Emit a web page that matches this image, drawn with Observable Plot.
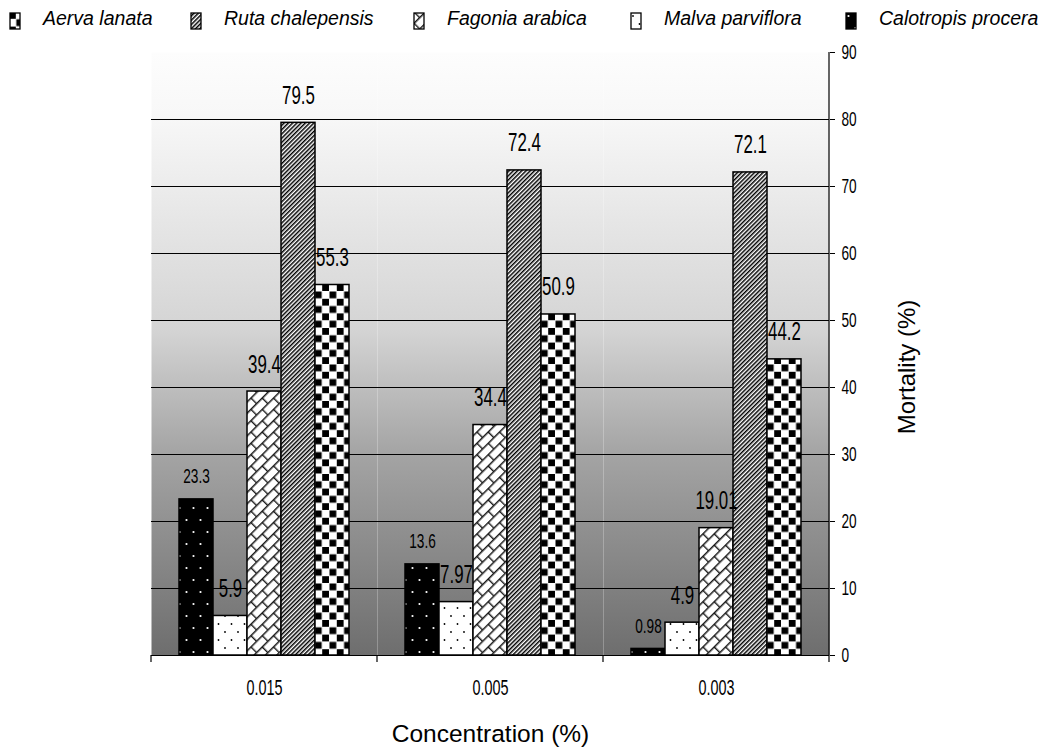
<!DOCTYPE html>
<html><head><meta charset="utf-8">
<script src="https://cdn.jsdelivr.net/npm/d3@7"></script>
<script src="https://cdn.jsdelivr.net/npm/@observablehq/plot@0.6"></script>
<style>
body{margin:0;background:#fff;width:1060px;height:751px;overflow:hidden;font-family:"Liberation Sans",Arial,sans-serif;}
#legend{position:relative;height:36px;}
.sw{position:absolute;top:12px;}
.lt{position:absolute;top:8px;font-style:italic;font-size:19.5px;line-height:20px;color:#000;white-space:nowrap;}
</style>
</head><body>
<svg width="0" height="0" style="position:absolute">
<defs>
<linearGradient id="bg" x1="0" y1="0" x2="0" y2="1">
<stop offset="0" stop-color="#fdfdfd"/>
<stop offset="0.1" stop-color="#f8f8f8"/>
<stop offset="0.46" stop-color="#d4d4d4"/>
<stop offset="0.665" stop-color="#a4a4a4"/>
<stop offset="1" stop-color="#6e6e6e"/>
</linearGradient>
<!-- Calotropis: black with white dots -->
<pattern id="pat0" patternUnits="userSpaceOnUse" width="14" height="24">
<rect width="14" height="24" fill="#000"/>
<circle cx="3.5" cy="4" r="1.1" fill="#fff"/>
<circle cx="10.5" cy="16" r="1.1" fill="#fff"/>
</pattern>
<!-- Malva: white with black dots -->
<pattern id="pat1" patternUnits="userSpaceOnUse" width="13" height="16">
<rect width="13" height="16" fill="#fff"/>
<circle cx="3" cy="4" r="0.9" fill="#000"/>
<circle cx="9.5" cy="12" r="0.9" fill="#000"/>
</pattern>
<!-- Fagonia: diagonal brick -->
<pattern id="pat2" patternUnits="userSpaceOnUse" width="16" height="16" patternTransform="rotate(-45)">
<rect width="16" height="16" fill="#fff"/>
<path d="M0,0.7H16M0,8.7H16M0.7,0V8.7M8.7,8.7V16" stroke="#1a1a1a" stroke-width="1.4" fill="none"/>
</pattern>
<!-- Ruta: diagonal stripes -->
<pattern id="pat3" patternUnits="userSpaceOnUse" width="3" height="6" patternTransform="rotate(45)">
<rect width="3" height="6" fill="#fff"/>
<rect width="1.5" height="6" fill="#000"/>
</pattern>
<!-- Aerva: checkerboard -->
<pattern id="pat4" patternUnits="userSpaceOnUse" width="14.6" height="14.6">
<rect width="14.6" height="14.6" fill="#fff"/>
<rect x="0" y="0" width="6.8" height="6.8" fill="#000"/>
<rect x="7.3" y="7.3" width="6.8" height="6.8" fill="#000"/>
</pattern>
</defs>
</svg>
<div id="legend"></div>
<div id="chart"></div>
<script>
// ---- data ----
const concentrations = ["0.015", "0.005", "0.003"];
const legendOrder = ["Aerva lanata", "Ruta chalepensis", "Fagonia arabica", "Malva parviflora", "Calotropis procera"];
const barOrder = ["Calotropis procera", "Malva parviflora", "Fagonia arabica", "Ruta chalepensis", "Aerva lanata"];
const calotropis = [23.3, 13.6, 0.98];
const malva = [5.9, 7.97, 4.9];
const fagonia = [39.4, 34.4, 19.01];
const ruta = [79.5, 72.4, 72.1];
const aerva = [55.3, 50.9, 44.2];
const yTicks = [0, 10, 20, 30, 40, 50, 60, 70, 80, 90];
const gridValues = [10, 20, 30, 40, 50, 60, 70, 80];
const xTitle = "Concentration (%)";
const yTitle = "Mortality (%)";

const seriesValues = {
  "Calotropis procera": calotropis,
  "Malva parviflora": malva,
  "Fagonia arabica": fagonia,
  "Ruta chalepensis": ruta,
  "Aerva lanata": aerva
};
const table = concentrations.flatMap((c, i) =>
  barOrder.map(s => ({conc: c, species: s, value: seriesValues[s][i]})));
const patternOf = s => `url(#pat${barOrder.indexOf(s)})`;

// ---- legend ----
const legendLefts = [9, 190, 413, 630, 845];
const legend = document.getElementById("legend");
legendOrder.forEach((s, i) => {
  const sw = document.createElementNS("http://www.w3.org/2000/svg", "svg");
  sw.setAttribute("width", 13); sw.setAttribute("height", 18);
  sw.setAttribute("class", "sw");
  sw.style.left = legendLefts[i] + "px";
  const r = document.createElementNS("http://www.w3.org/2000/svg", "rect");
  r.setAttribute("x", 1); r.setAttribute("y", 1); r.setAttribute("width", 10); r.setAttribute("height", 16);
  r.setAttribute("fill", patternOf(s)); r.setAttribute("stroke", "#000"); r.setAttribute("stroke-width", 1.3);
  sw.appendChild(r);
  legend.appendChild(sw);
  const t = document.createElement("span");
  t.className = "lt"; t.textContent = s;
  t.style.left = (legendLefts[i] + 34) + "px";
  legend.appendChild(t);
});

// ---- chart ----
const chart = Plot.plot({
  width: 1060, height: 715,
  marginTop: 16, marginBottom: 96, marginLeft: 150, marginRight: 230,
  style: {fontFamily: "'Liberation Sans', Arial, sans-serif", background: "transparent", color: "#000"},
  fx: {domain: concentrations, padding: 0, label: null},
  x: {domain: barOrder, paddingInner: 0, paddingOuter: 0.743, axis: null},
  y: {domain: [0, 90]},
  color: {domain: barOrder, range: barOrder.map(patternOf)},
  marks: [
    Plot.frame({fill: "url(#bg)", stroke: "none"}),
    Plot.ruleY(gridValues, {stroke: "#000", strokeWidth: 1}),
    Plot.ruleY([0], {stroke: "#000", strokeWidth: 1.2}),
    Plot.barY(table, {fx: "conc", x: "species", y: "value", fill: "species", stroke: "#000", strokeWidth: 1.5}),
    Plot.text(table.filter(d => d.species !== "Calotropis procera"), {
      fx: "conc", x: "species", y: "value", text: d => String(d.value),
      lineAnchor: "bottom", dy: -19, fontSize: 26, fill: "#000"}),
    Plot.text(table.filter(d => d.species === "Calotropis procera"), {
      fx: "conc", x: "species", y: "value", text: d => String(d.value),
      lineAnchor: "bottom", dy: -16, fontSize: 21, fill: "#000"}),
    Plot.axisY({anchor: "right", ticks: yTicks, tickSize: 5, tickPadding: 7,
      label: yTitle, labelAnchor: "center", labelOffset: 85}),
    Plot.axisFx({anchor: "bottom", tickSize: 0, tickPadding: 24,
      label: xTitle, labelAnchor: "center", labelOffset: 86})
  ]
});
document.getElementById("chart").appendChild(chart);

// condensed look of the chart's numbers
const styleText = (sel, size, k) => chart.querySelectorAll(sel).forEach(el => {
  if (size) el.setAttribute("font-size", size);
  if (k) el.setAttribute("transform", (el.getAttribute("transform") || "") + ` scale(${k},1)`);
});
styleText('g[aria-label="text"] text', null, 0.65);
styleText('g[aria-label="y-axis tick label"] text', 19.5, 0.7);
styleText('g[aria-label="fx-axis tick label"] text', 22.5, 0.64);
styleText('g[aria-label="y-axis label"] text', 24, null);
styleText('g[aria-label="fx-axis label"] text', 24.5, null);
chart.querySelectorAll('g[aria-label="y-axis label"] text').forEach(el => {
  el.textContent = yTitle;
  el.setAttribute("transform", "translate(0,13) " + (el.getAttribute("transform") || ""));
});
chart.querySelectorAll('g[aria-label="fx-axis label"] text').forEach(el => el.textContent = xTitle);

// y axis line and category boundary ticks, from the plot's scales
const fxs = chart.scale("fx"), ys = chart.scale("y");
const edges = concentrations.map(c => fxs.apply(c)).concat([fxs.apply(concentrations[concentrations.length - 1]) + fxs.bandwidth]);
const g = d3.select(chart).append("g").attr("stroke", "#000").attr("stroke-width", 1.2);
edges.forEach(x => g.append("line").attr("x1", x).attr("x2", x).attr("y1", ys.apply(0)).attr("y2", ys.apply(0) + 7));
const xr = edges[edges.length - 1];
g.append("line").attr("x1", xr).attr("x2", xr).attr("y1", ys.apply(90)).attr("y2", ys.apply(0));
</script>
</body></html>
